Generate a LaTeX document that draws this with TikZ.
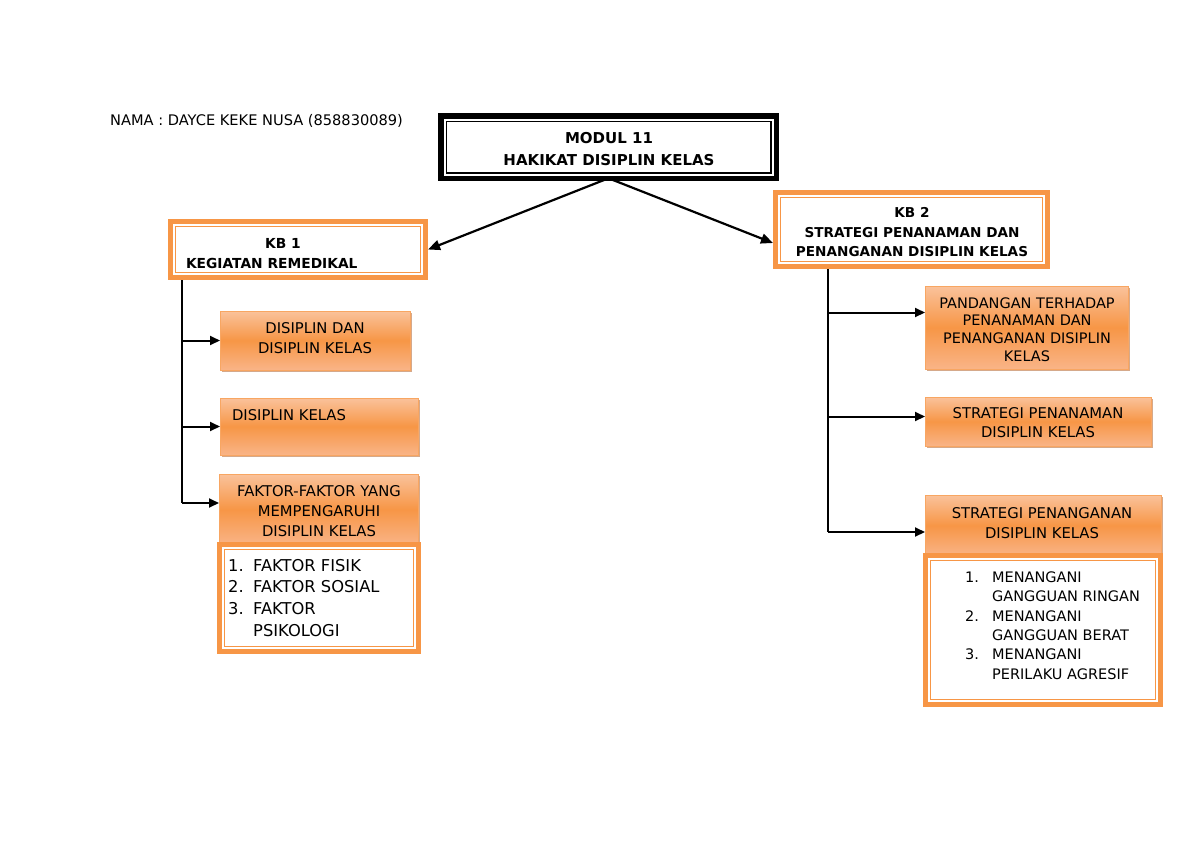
\documentclass[tikz,border=0pt]{standalone}
\usepackage{fontspec}
\setmainfont{DejaVu Sans}
\usetikzlibrary{arrows.meta,shadows}
\definecolor{obord}{HTML}{F79646}
\definecolor{otop}{HTML}{FAC29B}
\definecolor{omid}{HTML}{F79646}
\definecolor{obot}{HTML}{F9B487}
\definecolor{oshad}{HTML}{B9703F}
\newcommand\txtn{\fontsize{14.8}{20}\selectfont}
\begin{document}
\begin{tikzpicture}[x=1pt,y=-1pt,
  grad/.style={rectangle, draw=obord!85, line width=0.8pt, top color=otop, bottom color=obot, middle color=omid,
    drop shadow={shadow xshift=2pt,shadow yshift=-2pt,fill=oshad,opacity=0.6}, inner sep=0pt, outer sep=0pt},
  frameo/.style={rectangle, draw=obord, line width=5pt, fill=white, inner sep=0pt, outer sep=0pt},
  innerline/.style={draw=obord, line width=1.3pt},
  lbl/.style={inner sep=0pt, outer sep=0pt, align=center, font=\txtn},
  conn/.style={draw=black, line width=2.2pt, -{Triangle[length=12pt,width=10pt]}},
  trunk/.style={draw=black, line width=2.2pt},
  brarrow/.style={draw=black, line width=2pt, -{Triangle[length=10pt,width=9pt]}}
]
\useasboundingbox (0,0) rectangle (1200,849);
\fill[white] (0,0) rectangle (1200,849);

% name
\node[anchor=base west, inner sep=0pt, font=\fontsize{14.6}{17}\selectfont] (nama) at (110,125) {NAMA : DAYCE KEKE NUSA (858830089)};

% module box
\node[rectangle, draw=black, line width=5.5pt, fill=white, minimum width=335.5pt, minimum height=62.5pt, inner sep=0pt, outer sep=0pt] (modul) at (608.5,147) {};
\draw[black, line width=1.3pt] ([shift={(5.4pt,-5.4pt)}]modul.north west) rectangle ([shift={(-5.4pt,5.4pt)}]modul.south east);
\node[lbl, font=\bfseries\fontsize{15}{22}\selectfont] (modult) at (609,149) {MODUL 11\\HAKIKAT DISIPLIN KELAS};

% KB boxes
\node[frameo, minimum width=255pt, minimum height=56pt] (kb1) at (298,249.5) {};
\node[frameo, minimum width=272pt, minimum height=74pt] (kb2) at (911.5,229.5) {};

% left gradient boxes
\node[grad, minimum width=190pt, minimum height=59pt] (lb1) at (315,340.5) {};
\node[grad, minimum width=198pt, minimum height=57pt] (lb2) at (319,426.5) {};
\node[grad, minimum width=199pt, minimum height=71pt] (lb3) at (318.5,509.5) {};
\node[frameo, minimum width=199pt, minimum height=107pt] (llist) at (319,598) {};

% right gradient boxes
\node[grad, minimum width=203pt, minimum height=83pt] (rb1) at (1026.5,327.5) {};
\node[grad, minimum width=226pt, minimum height=49pt] (rb2) at (1038,421.5) {};
\node[grad, minimum width=236pt, minimum height=61pt] (rb3) at (1043,525.5) {};
\node[frameo, minimum width=235pt, minimum height=149pt] (rlist) at (1043,630) {};

\foreach \n in {kb1,kb2,llist,rlist}
  \draw[innerline] ([shift={(5.2pt,-5.2pt)}]\n.north west) rectangle ([shift={(-5.2pt,5.2pt)}]\n.south east);

% texts
\node[lbl, font=\bfseries\fontsize{13.8}{20}\selectfont] (kb1a) at (283,243) {KB 1};
\node[lbl, anchor=west, font=\bfseries\fontsize{13.8}{20}\selectfont] (kb1b) at (186,263) {KEGIATAN REMEDIKAL};
\node[lbl, font=\bfseries\fontsize{13.6}{19.5}\selectfont] (kb2t) at (912,232.5) {KB 2\\STRATEGI PENANAMAN DAN\\PENANGANAN DISIPLIN KELAS};

\node[lbl] (lb1t) at (315,338) {DISIPLIN DAN\\DISIPLIN KELAS};
\node[lbl, anchor=west] (lb2t) at (232,415) {DISIPLIN KELAS};
\node[lbl] (lb3t) at (319,511) {FAKTOR-FAKTOR YANG\\MEMPENGARUHI\\DISIPLIN KELAS};
\node[inner sep=0pt, anchor=west, font=\fontsize{16.3}{21.7}\selectfont] (llt) at (228,599.5)
  {\begin{tabular}{@{}p{25pt}@{}l@{}}1. & FAKTOR FISIK\\ 2. & FAKTOR SOSIAL\\ 3. & FAKTOR\\ & PSIKOLOGI\end{tabular}};

\node[lbl, font=\fontsize{14.5}{17.7}\selectfont] (rb1t) at (1027,329.5) {PANDANGAN TERHADAP\\PENANAMAN DAN\\PENANGANAN DISIPLIN\\KELAS};
\node[lbl, font=\fontsize{14.8}{19}\selectfont] (rb2t) at (1038,422.5) {STRATEGI PENANAMAN\\DISIPLIN KELAS};
\node[lbl] (rb3t) at (1042,523) {STRATEGI PENANGANAN\\DISIPLIN KELAS};
\node[inner sep=0pt, anchor=west, font=\fontsize{14.5}{19.4}\selectfont] (rlt) at (965,627)
  {\begin{tabular}{@{}p{27pt}@{}l@{}}1. & MENANGANI\\ & GANGGUAN RINGAN\\ 2. & MENANGANI\\ & GANGGUAN BERAT\\ 3. & MENANGANI\\ & PERILAKU AGRESIF\end{tabular}};

% top connectors
\draw[conn] (modul.south) -- ([xshift=2.5pt]kb1.east);
\draw[conn] (modul.south) -- ([shift={(-2.5pt,-13.5pt)}]kb2.west);

% left trunk
\coordinate (tl) at (182,503);
\coordinate (k1s) at ([yshift=-2.5pt]kb1.south);
\draw[trunk] (k1s -| tl) -- (tl);
\draw[brarrow] (k1s -| tl) |- (lb1.west);
\draw[brarrow] (k1s -| tl) |- (lb2.west);
\draw[brarrow] (tl) -- (tl -| lb3.west);

% right trunk
\coordinate (tr) at (828,532);
\coordinate (k2s) at ([yshift=-2.5pt]kb2.south);
\draw[trunk] (k2s -| tr) -- (tr);
\draw[brarrow] (k2s -| tr) |- ([yshift=15pt]rb1.west);
\draw[brarrow] (k2s -| tr) |- ([yshift=5pt]rb2.west);
\draw[brarrow] (tr) -- (tr -| rb3.west);
\end{tikzpicture}
\end{document}
